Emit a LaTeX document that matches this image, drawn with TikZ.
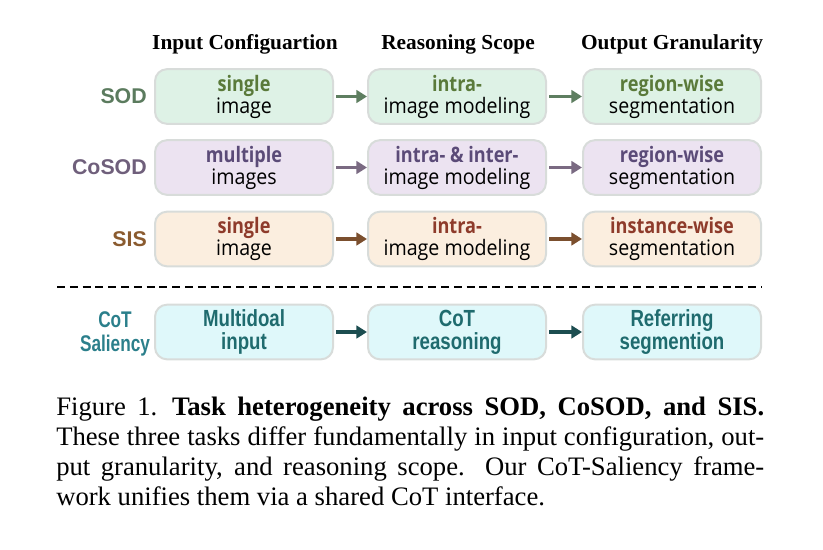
\documentclass[tikz,border=0pt]{standalone}
\usepackage{fontspec}
\setmainfont{Liberation Serif}
\newfontfamily\boxfont[FakeStretch=0.92]{Open Sans}
\newfontfamily\boxbold[FakeStretch=0.85]{Open Sans}
\newfontfamily\tagfont{Liberation Sans}
\newfontfamily\cotfont[FakeStretch=0.76]{Liberation Sans}
\newfontfamily\narrowfont[FakeStretch=0.8]{Liberation Sans}
\usetikzlibrary{arrows.meta}
% row colours: f = fill, l = row label, t = first line, a = arrow
\definecolor{fsod}{HTML}{DEF2E6}\definecolor{lsod}{HTML}{5B7B5E}
\definecolor{tsod}{HTML}{5A7A3A}\definecolor{asod}{HTML}{5E7E60}
\definecolor{fco}{HTML}{ECE3F1}\definecolor{lco}{HTML}{6F5F7B}
\definecolor{tco}{HTML}{5B4B78}\definecolor{aco}{HTML}{7A6A82}
\definecolor{fsis}{HTML}{FBEEDF}\definecolor{lsis}{HTML}{8A5B2F}
\definecolor{tsis}{HTML}{8E3B2B}\definecolor{asis}{HTML}{7B4F2E}
\definecolor{fcot}{HTML}{DFF8FA}\definecolor{lcot}{HTML}{2B7F8B}
\definecolor{tcot}{HTML}{1F6B6E}\definecolor{acot}{HTML}{1C4D50}
\definecolor{boxline}{HTML}{D8DCDA}
\tikzset{
  header/.style   = {anchor=base, inner sep=0pt, font=\bfseries\fontsize{16}{18}\selectfont},
  rowtag/.style   = {anchor=east, inner sep=0pt, font=\tagfont\bfseries\fontsize{16}{18}\selectfont},
  taskbox/.style  = {draw=boxline, line width=1.5pt, rounded corners=9pt,
                     minimum width=133.5pt, minimum height=41pt, inner sep=0pt, align=center,
                     font=\boxfont\fontsize{16}{16.5}\selectfont},
  cotbox/.style   = {taskbox, fill=fcot, text=tcot,
                     font=\narrowfont\bfseries\fontsize{17.5}{17}\selectfont},
  flow/.style     = {-{Triangle[length=8pt,width=9.5pt]}, line width=2.6pt, shorten <=1.5pt}
}
\begin{document}
\begin{tikzpicture}[x=0.75pt,y=-0.75pt]
\useasboundingbox (0,0) rectangle (823,549);
% column headers
\foreach \x/\h [count=\i] in {245/Input Configuartion,458/Reasoning Scope,672/Output Granularity}
  \node[header] (head \i) at (\x,50) {\h};
% the three tasks
\foreach \n/\y/\lbl/\la/\lb/\ma/\mb/\ra/\rb in
   {sod/96.5/SOD/single/image/intra-/image modeling/region-wise/segmentation,
    co/167.5/CoSOD/multiple/images/intra- \& inter-/image modeling/region-wise/segmentation,
    sis/239/SIS/single/image/intra-/image modeling/instance-wise/segmentation}{
  \node[rowtag, text=l\n] (\n tag) at (147,\y) {\lbl};
  \node[taskbox, fill=f\n] (\n in)  at (244,\y) {{\boxbold\bfseries\color{t\n}\la}\\\lb};
  \node[taskbox, fill=f\n] (\n mid) at (457,\y) {{\boxbold\bfseries\color{t\n}\ma}\\\mb};
  \node[taskbox, fill=f\n] (\n out) at (672,\y) {{\boxbold\bfseries\color{t\n}\ra}\\\rb};
  \draw[flow, draw=a\n, fill=a\n] (\n in) -- (\n mid);
  \draw[flow, draw=a\n, fill=a\n] (\n mid) -- (\n out);
}
\draw[line width=1pt, dash pattern=on 6pt off 3.6pt] (57,287) coordinate (cut l) -- (762,287) coordinate (cut r);
% CoT-Saliency row
\node[align=center, inner sep=0pt, text=lcot, font=\cotfont\bfseries\fontsize{17}{18.5}\selectfont]
     (cot tag) at (115,334) {CoT\\Saliency};
\node[cotbox] (cot in)  at (244,332) {Multidoal\\input};
\node[cotbox] (cot mid) at (457,332) {CoT\\reasoning};
\node[cotbox] (cot out) at (672,332) {Referring\\segmention};
\draw[flow, draw=acot, fill=acot] (cot in) -- (cot mid);
\draw[flow, draw=acot, fill=acot] (cot mid) -- (cot out);
% caption
\node[anchor=north west, inner sep=0pt, text width=531pt, align=justify,
      font=\fontsize{20}{22.5}\selectfont] (caption) at (56,397)
  {Figure 1.\hskip0.55em\textbf{Task heterogeneity across SOD, CoSOD, and SIS.}\linebreak
   These three tasks differ fundamentally in input configuration, out-\linebreak
   put granularity, and reasoning scope.  Our CoT-Saliency frame-\linebreak
   work unifies them via a shared CoT interface.};
\end{tikzpicture}
\end{document}
